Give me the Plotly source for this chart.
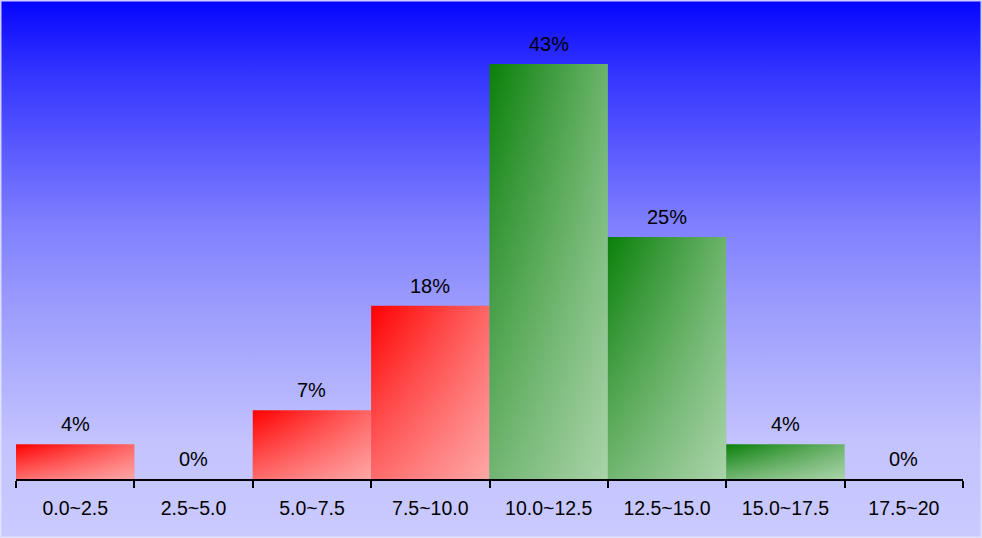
import base64
import plotly.graph_objects as go

# ---- data ----
categories = ["0.0~2.5", "2.5~5.0", "5.0~7.5", "7.5~10.0",
              "10.0~12.5", "12.5~15.0", "15.0~17.5", "17.5~20"]
percent = [3.6, 0.0, 7.1, 17.9, 42.9, 25.0, 3.6, 0.0]
labels = ["4%", "0%", "7%", "18%", "43%", "25%", "4%", "0%"]
group = ["red", "red", "red", "red", "green", "green", "green", "green"]

# ---- styles ----
W, H = 982, 538
ML, MR, MT, MB = 16, 19, 2, 59
BASE = {"red": (255, 0, 0), "green": (10, 128, 10)}
H_MIX = 0.40   # horizontal lightening toward white
V_ALPHA = 0.42  # vertical white overlay at bottom
FONT = "Liberation Sans, Arial, sans-serif"

PW, PH = W - ML - MR, H - MT - MB
PX0, PX1 = -ML / PW, 1 + MR / PW
PY0, PY1 = -MB / PH, 1 + MT / PH


def mix_white(c, t):
    return "rgb(%d,%d,%d)" % tuple(round(v + (255 - v) * t) for v in c)


bg_stops = [(0.0, (5, 5, 255)), (0.13, (50, 50, 255)), (0.42, (128, 128, 255)),
            (0.55, (152, 152, 253)), (0.82, (195, 195, 255)), (1.0, (202, 202, 255))]
stops = "".join("<stop offset='%g' stop-color='rgb(%d,%d,%d)'/>" % (o, *c) for o, c in bg_stops)
svg = ("<svg xmlns='http://www.w3.org/2000/svg' width='982' height='538' preserveAspectRatio='none'>"
       "<defs><linearGradient id='g' x1='0' y1='0' x2='0' y2='1'>" + stops +
       "</linearGradient></defs><rect x='0' y='0' width='982' height='538' fill='url(#g)'/></svg>")
bg_uri = "data:image/svg+xml;base64," + base64.b64encode(svg.encode()).decode()

fig = go.Figure()
for i, (v, g) in enumerate(zip(percent, group)):
    if v <= 0:
        continue
    xs = [i - 0.5, i + 0.5, i + 0.5, i - 0.5, i - 0.5]
    ys = [0, 0, v, v, 0]
    base = BASE[g]
    fig.add_trace(go.Scatter(
        x=xs, y=ys, mode="lines", fill="toself", line=dict(width=0),
        fillgradient=dict(type="horizontal",
                          colorscale=[[0, mix_white(base, 0)], [1, mix_white(base, H_MIX)]]),
        hoverinfo="skip", showlegend=False))
    fig.add_trace(go.Scatter(
        x=xs, y=ys, mode="lines", fill="toself", line=dict(width=0),
        fillgradient=dict(type="vertical",
                          colorscale=[[0, "rgba(255,255,255,%g)" % V_ALPHA],
                                      [1, "rgba(255,255,255,0)"]]),
        hoverinfo="skip", showlegend=False))

for i, (v, t) in enumerate(zip(percent, labels)):
    fig.add_annotation(x=i, y=v, text=t, showarrow=False, yanchor="bottom",
                       yshift=7, font=dict(family=FONT, size=20, color="black"))

fig.update_layout(
    width=W, height=H,
    margin=dict(l=ML, r=MR, t=MT, b=MB),
    paper_bgcolor="rgb(200,200,255)",
    plot_bgcolor="rgba(0,0,0,0)",
    font=dict(family=FONT, size=19.5, color="black"),
    images=[dict(source=bg_uri, xref="paper", yref="paper", x=PX0, y=PY1,
                 sizex=PX1 - PX0, sizey=PY1 - PY0, xanchor="left", yanchor="top",
                 sizing="stretch", layer="below")],
    shapes=[dict(type="rect", xref="paper", yref="paper", x0=PX0, y0=PY0, x1=PX1, y1=PY1,
                 line=dict(color="rgba(228,228,255,0.9)", width=3))],
    xaxis=dict(range=[-0.5, len(categories) - 0.5], tickmode="array",
               tickvals=list(range(len(categories))), ticktext=categories,
               ticks="", showline=True, linecolor="black", linewidth=1.5,
               showgrid=False, zeroline=False, ticklabelstandoff=11,
               tickfont=dict(family=FONT, size=19.5, color="black"),
               minor=dict(tickmode="linear", tick0=-0.5, dtick=1, ticks="outside",
                          ticklen=7, tickwidth=1.5, tickcolor="black", showgrid=False),
               fixedrange=True),
    yaxis=dict(range=[0, 49.3], visible=False, showgrid=False, zeroline=False,
               fixedrange=True),
)

fig.write_html("out.html", config={"displayModeBar": False},
               post_script="document.body.style.margin='0px';document.body.style.overflow='hidden';")
